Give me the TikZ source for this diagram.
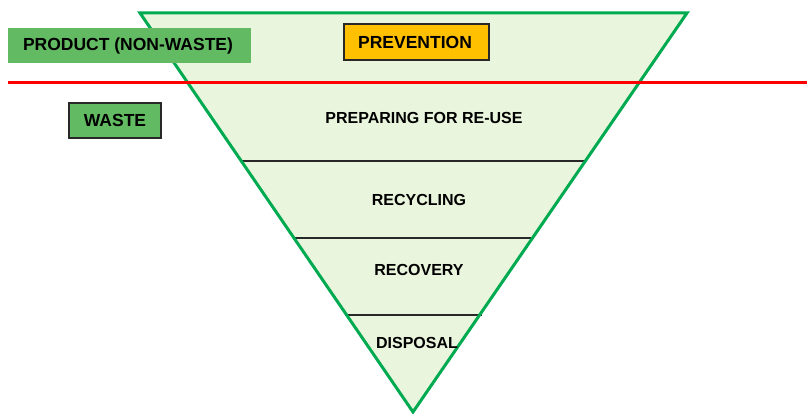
\documentclass[tikz,border=0pt]{standalone}
\usepackage{fontspec}
\setmainfont{Liberation Sans}
\definecolor{trifill}{RGB}{233,245,220}
\definecolor{triedge}{RGB}{0,170,80}
\definecolor{boxgreen}{RGB}{98,187,98}
\definecolor{prevyellow}{RGB}{255,192,0}
\definecolor{sepline}{RGB}{40,40,40}
\begin{document}
\begin{tikzpicture}[x=1pt,y=-1pt,
  lbl/.style={font=\fontsize{17.5}{20}\selectfont\bfseries, text=black, inner sep=0pt, anchor=center},
  tier/.style={font=\fontsize{16}{19}\selectfont\bfseries, text=black, inner sep=0pt, anchor=center},
  greenbox/.style={fill=boxgreen, draw=sepline, line width=1.5pt},
  sep/.style={draw=sepline, line width=1.8pt}]
\useasboundingbox (0,0) rectangle (807,414);
% triangle
\coordinate (TL) at (140,13);
\coordinate (TR) at (687,13);
\coordinate (AP) at (413,412);
\fill[trifill] (TL) -- (TR) -- (AP) -- cycle;
% separators
\coordinate (s1l) at (242,161); \coordinate (s1r) at (585,161);
\coordinate (s2l) at (294,238); \coordinate (s2r) at (533,238);
\coordinate (s3l) at (345,315); \coordinate (s3r) at (482,315);
\draw[sep] (s1l) -- (s1r);
\draw[sep] (s2l) -- (s2r);
\draw[sep] (s3l) -- (s3r);
\draw[triedge, line width=3pt, line join=miter] (TL) -- (TR) -- (AP) -- cycle;
% red line
\coordinate (r1) at (8,83);
\coordinate (r2) at (807,83);
\draw[red, line width=3pt] (r1) -- (r2);
% boxes
\fill[boxgreen] (8,28) rectangle (251,63);
\node[lbl] (product) at (128,45.5) {PRODUCT (NON-WASTE)};
\draw[greenbox] (69,103) rectangle (161,138);
\node[lbl] (waste) at (115,120.5) {WASTE};
\draw[fill=prevyellow, draw=sepline, line width=1.5pt] (344,24) rectangle (489,60);
\node[lbl] (prevention) at (415,42) {PREVENTION};
% tiers
\node[tier] (reuse) at (424,118) {PREPARING FOR RE-USE};
\node[tier] (recycling) at (419,200) {RECYCLING};
\node[tier] (recovery) at (419,270) {RECOVERY};
\node[tier] (disposal) at (417,343) {DISPOSAL};
\end{tikzpicture}
\end{document}
